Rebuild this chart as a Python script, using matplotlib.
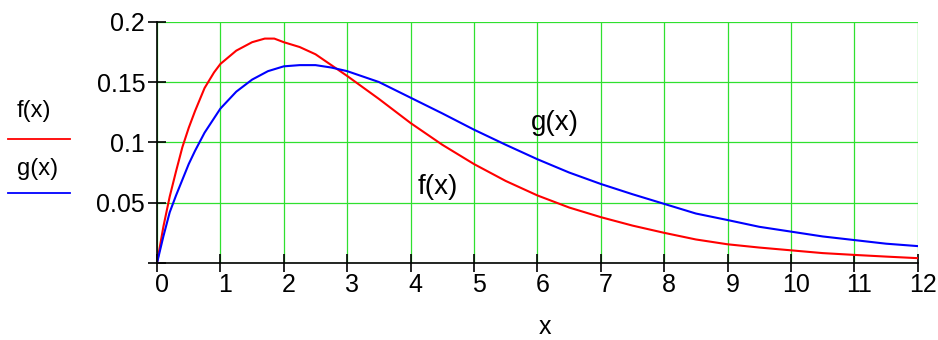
import matplotlib
matplotlib.use("Agg")
import matplotlib.pyplot as plt
import matplotlib.transforms as mtransforms
from matplotlib.lines import Line2D

plt.rcParams['font.family'] = ['Liberation Sans', 'DejaVu Sans']

# values
x_f = [0, 0.1, 0.2, 0.3, 0.4, 0.5, 0.6, 0.75, 0.9, 1.0, 1.25, 1.5, 1.7, 1.85, 2.0,
       2.25, 2.5, 2.75, 3.0, 3.5, 4.0, 4.5, 5.0, 5.5, 6.0, 6.5, 7.0, 7.5, 8.0,
       8.5, 9.0, 9.5, 10.0, 10.5, 11.0, 11.5, 12.0]
f_val = [0, 0.030, 0.055, 0.076, 0.096, 0.112, 0.126, 0.145, 0.158, 0.165, 0.176,
         0.183, 0.186, 0.186, 0.183, 0.179, 0.173, 0.164, 0.155, 0.136, 0.116,
         0.098, 0.082, 0.068, 0.056, 0.046, 0.038, 0.031, 0.025, 0.0195, 0.0155,
         0.0128, 0.0105, 0.0082, 0.0067, 0.0053, 0.004]

x_g = [0, 0.1, 0.2, 0.3, 0.4, 0.5, 0.6, 0.75, 0.9, 1.0, 1.25, 1.5, 1.75, 2.0,
       2.25, 2.5, 2.75, 3.0, 3.5, 4.0, 4.5, 5.0, 5.5, 6.0, 6.5, 7.0, 7.5, 8.0,
       8.5, 9.0, 9.5, 10.0, 10.5, 11.0, 11.5, 12.0]
g_val = [0, 0.022, 0.042, 0.056, 0.069, 0.082, 0.093, 0.108, 0.120, 0.128, 0.142,
         0.152, 0.159, 0.163, 0.164, 0.164, 0.162, 0.159, 0.150, 0.137, 0.124,
         0.1105, 0.098, 0.086, 0.075, 0.0655, 0.057, 0.049, 0.041, 0.0356, 0.030,
         0.026, 0.022, 0.019, 0.016, 0.014]

x_ticks = list(range(13))
y_ticks = [0, 0.05, 0.1, 0.15, 0.2]
y_ticklabels = ['', '0.05', '0.1', '0.15', '0.2']

fig = plt.figure(figsize=(9.38, 3.4), dpi=100)
ax = fig.add_axes([0.1674, 0.2265, 0.811, 0.7097])

ax.plot(x_f, f_val, color='#ff0000', linewidth=1.5, zorder=3)
ax.plot(x_g, g_val, color='#0000ff', linewidth=1.5, zorder=3)

ax.set_xlim(0, 12)
ax.set_ylim(0, 0.2)
ax.set_xticks(x_ticks)
ax.set_xticklabels([str(t) for t in x_ticks])
ax.set_yticks(y_ticks)
ax.set_yticklabels(y_ticklabels)
ax.tick_params(direction='inout', length=13, width=1.2, labelsize=18,
               colors='black')
ax.tick_params(axis='x', pad=1)
ax.tick_params(axis='y', pad=2)

# labels sit a bit to the right of their ticks
off = mtransforms.ScaledTranslation(0.05, 0, fig.dpi_scale_trans)
for lab in ax.get_xticklabels():
    lab.set_transform(lab.get_transform() + off)

ax.grid(True, color='#2fe02f', linewidth=0.9)
ax.set_axisbelow(True)
ax.spines['top'].set_visible(False)
ax.spines['right'].set_visible(False)
ax.spines['left'].set_linewidth(1.2)
ax.spines['bottom'].set_linewidth(1.2)
ax.spines['left'].set_zorder(4)
ax.spines['bottom'].set_zorder(4)

ax.text(6.27, 0.116, 'g(x)', fontsize=20, ha='center', va='center')
ax.text(4.43, 0.063, 'f(x)', fontsize=20, ha='center', va='center')

fig.text(545 / 938, 1 / 340, 'x', fontsize=18, ha='center', va='bottom')

# Legende links
fig.text(34 / 938, 1 - 111 / 340, 'f(x)', fontsize=17, ha='center', va='center')
fig.add_artist(Line2D([8 / 938, 70 / 938], [1 - 139 / 340, 1 - 139 / 340],
                      color='#ff0000', linewidth=1.3))
fig.text(38 / 938, 1 - 169 / 340, 'g(x)', fontsize=17, ha='center', va='center')
fig.add_artist(Line2D([8 / 938, 70 / 938], [1 - 193 / 340, 1 - 193 / 340],
                      color='#0000ff', linewidth=1.3))

fig.savefig('out.png', dpi=100)
